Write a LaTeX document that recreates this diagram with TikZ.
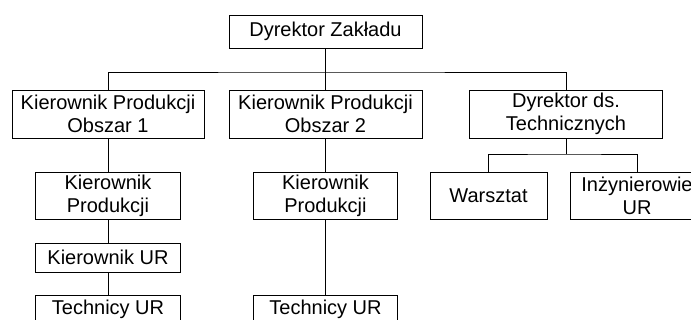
\documentclass[tikz,border=0pt]{standalone}
\usepackage{fontspec}
\setmainfont{Liberation Sans}
\begin{document}
\begin{tikzpicture}[x=1pt,y=-1pt,
  box/.style={draw=black,line width=0.8pt,inner sep=0pt,align=center,
    font=\fontsize{20}{23}\selectfont},
  conn/.style={draw=black,line width=0.8pt}]
\useasboundingbox (0,0) rectangle (691,320);
\clip (0,0) rectangle (691,320);
% level 1
\node[box,minimum width=193pt,minimum height=33pt] (dz) at (325.5,31.5) {Dyrektor Zakładu};
% level 2
\node[box,minimum width=192pt,minimum height=48pt] (b1) at (108,114) {Kierownik Produkcji\\Obszar 1};
\node[box,minimum width=193pt,minimum height=48pt] (b2) at (325.5,114) {Kierownik Produkcji\\Obszar 2};
\node[box,minimum width=193pt,minimum height=48pt] (b3) at (566,114) {Dyrektor ds.\\Technicznych};
% level 3
\node[box,minimum width=145pt,minimum height=47pt] (kp1) at (108,195.5) {Kierownik\\Produkcji};
\node[box,minimum width=144pt,minimum height=47pt] (kp2) at (325.5,195.5) {Kierownik\\Produkcji};
\node[box,minimum width=117pt,minimum height=47pt] (war) at (488.5,195.5) {Warsztat};
\node[box,minimum width=134pt,minimum height=47pt] (inz) at (637,195.5) {Inżynierowie\\UR};
% level 4
\node[box,minimum width=145pt,minimum height=29pt] (kur) at (108,257.5) {Kierownik UR};
% level 5
\node[box,minimum width=145pt,minimum height=29pt] (tur1) at (108,309.5) {Technicy UR};
\node[box,minimum width=144pt,minimum height=29pt] (tur2) at (325.5,309.5) {Technicy UR};
% connectors
\coordinate (h1) at (325.5,72);
\coordinate (h3) at (566,154);
\draw[conn] (dz.south) -- (h1);
\draw[conn] (b1.north) |- (h1) -| (b3.north);
\draw[conn] (h1) -- (b2.north);
\draw[conn] (b1.south) -- (kp1.north);
\draw[conn] (kp1.south) -- (kur.north);
\draw[conn] (kur.south) -- (tur1.north);
\draw[conn] (b2.south) -- (kp2.north);
\draw[conn] (kp2.south) -- (tur2.north);
\draw[conn] (b3.south) -- (h3);
\draw[conn] (war.north) |- (h3) -| (inz.north);
\end{tikzpicture}
\end{document}
